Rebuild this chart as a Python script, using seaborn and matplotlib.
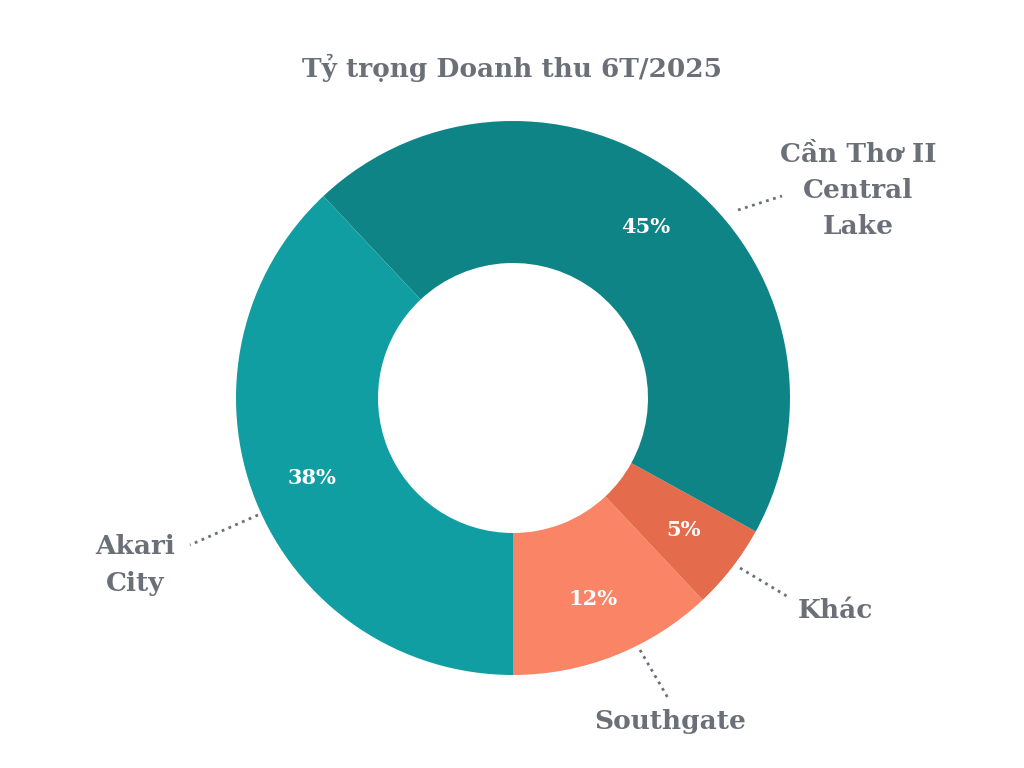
import matplotlib
matplotlib.use("Agg")
import matplotlib.pyplot as plt
import seaborn as sns

# data
labels = ["Southgate", "Khác", "Cần Thơ II\nCentral\nLake", "Akari\nCity"]
shares = [12, 5, 45, 38]
colors = ["#F98466", "#E56B4D", "#0E8487", "#119EA3"]

TEXT = "#6B7078"
CX, CY, R = 513, 398, 277  # pixel centre/radius of the donut


def px(x, y):
    return (x - CX) / R, (CY - y) / R


sns.set_theme(style="white")
plt.rcParams["font.family"] = "DejaVu Serif"

fig = plt.figure(figsize=(10.24, 7.68), dpi=100)
ax = fig.add_axes([0, 0, 1, 1])
ax.pie(shares, colors=colors, startangle=-90, counterclock=True,
       radius=1.0, wedgeprops=dict(width=1 - 135 / R, edgecolor="none"),
       autopct="%d%%", pctdistance=0.78,
       textprops=dict(color="white", fontsize=15, fontweight="bold"))
ax.set_xlim(-CX / R, (1024 - CX) / R)
ax.set_ylim(-(768 - CY) / R, CY / R)
ax.set_aspect("equal")
ax.axis("off")

fig.text(0.5, 1 - 68 / 768, "Tỷ trọng Doanh thu 6T/2025", ha="center", va="center",
         fontsize=19, fontweight="bold", color=TEXT)

# outside labels: (text position, leader start, leader end, ha)
label_pos = [
    ((670, 722), (640, 650), (668, 698), "center"),
    ((835, 611), (740, 568), (790, 598), "center"),
    ((858, 190), (738, 210), (782, 196), "center"),
    ((135, 565), (258, 515), (190, 545), "center"),
]
for lab, (tp, a, b, ha) in zip(labels, label_pos):
    x0, y0 = px(*a)
    x1, y1 = px(*b)
    ax.plot([x0, x1], [y0, y1], ls=":", lw=2, color=TEXT)
    tx, ty = px(*tp)
    ax.text(tx, ty, lab, ha=ha, va="center", fontsize=19, fontweight="bold",
            color=TEXT, linespacing=1.55)

fig.savefig("out.png", dpi=100, facecolor="white")
